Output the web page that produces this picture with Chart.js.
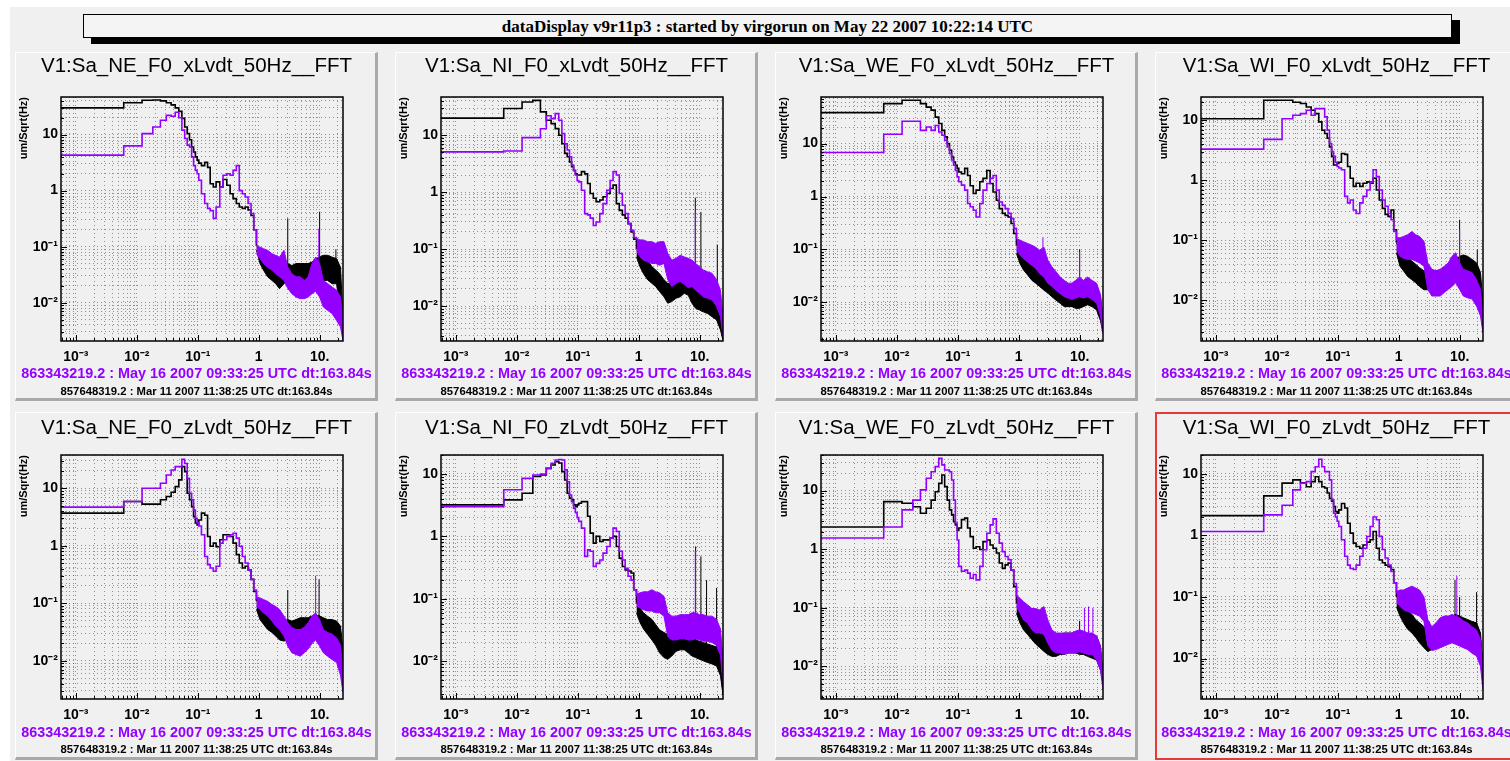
<!DOCTYPE html>
<html>
<head>
<meta charset="utf-8">
<script src="https://cdn.jsdelivr.net/npm/chart.js@4.4.1/dist/chart.umd.min.js"></script>
<style>
html, body { margin: 0; padding: 0; }
body { width: 1510px; height: 761px; overflow: hidden; position: relative; background: #fff; font-family: "Liberation Sans", Arial, sans-serif; }
#bg { position: absolute; left: 10px; top: 7px; right: 0; bottom: 0; background: #f0f0f0; }
#header { position: absolute; left: 83px; top: 14px; width: 1367px; height: 22px; border: 1px solid #000; background: #f4f4f4;
  box-shadow: 8px 6px 0 #000; text-align: center; font: bold 17px "Liberation Serif", "DejaVu Serif", serif; line-height: 23px; color: #000; }
.pad { position: absolute; width: 363px; background: #f0f0f0; overflow: hidden; }
.pad canvas { position: absolute; left: 0; top: 0; }
.frame { position: absolute; left: 0; top: 0; right: 0; bottom: 0; box-sizing: border-box; pointer-events: none;
  border-top: 1px solid #fff; border-left: 1px solid #fff; border-right: 3px solid #a9a9a9; border-bottom: 3px solid #a9a9a9; }
.frame.sel { border: 2px solid #e8393a; }
.now { position: absolute; left: -60px; right: -60px; text-align: center; white-space: nowrap; color: #9400ff;
  font: bold 14.4px "Liberation Sans", Arial, sans-serif; line-height: 16px; }
.ref { position: absolute; left: -60px; right: -60px; text-align: center; white-space: nowrap; color: #000;
  font: bold 11.3px "Liberation Sans", Arial, sans-serif; line-height: 14px; }
</style>
</head>
<body>
<div id="bg"></div>
<div id="header">dataDisplay v9r11p3 : started by virgorun on May 22 2007 10:22:14 UTC</div>
<div id="pads"></div>
<script>
// frequency grid (Hz): FFT bin edges at low f, then points along the curve
const lineFreq = [0.0005, 0.0061, 0.0122, 0.0183, 0.0244, 0.0305, 0.0366, 0.0427, 0.0488, 0.0549, 0.061, 0.0671, 0.0732,
  0.0793, 0.0854, 0.0915, 0.0977, 0.104, 0.115, 0.13, 0.145, 0.16, 0.18, 0.2, 0.23, 0.26, 0.3, 0.34, 0.38, 0.43, 0.48,
  0.54, 0.6, 0.67, 0.75, 0.83, 0.92];
// noisy high-frequency part: upper / lower envelope of the trace
const bandFreq = [0.92, 1.05, 1.2, 1.4, 1.65, 1.9, 2.2, 2.6, 3.0, 3.5, 4.1, 4.8, 5.6, 6.5, 7.5, 8.6, 10, 11.5, 13.5, 16, 19, 22, 24.2];

const xMajor = [0.001, 0.01, 0.1, 1, 10];
const xMajorLabels = ['10⁻³', '10⁻²', '10⁻¹', '1', '10.'];
const yMajor = [0.01, 0.1, 1, 10];
const yMajorLabels = ['10⁻²', '10⁻¹', '1', '10'];

const titles = ['V1:Sa_NE_F0_xLvdt_50Hz__FFT', 'V1:Sa_NI_F0_xLvdt_50Hz__FFT', 'V1:Sa_WE_F0_xLvdt_50Hz__FFT', 'V1:Sa_WI_F0_xLvdt_50Hz__FFT',
  'V1:Sa_NE_F0_zLvdt_50Hz__FFT', 'V1:Sa_NI_F0_zLvdt_50Hz__FFT', 'V1:Sa_WE_F0_zLvdt_50Hz__FFT', 'V1:Sa_WI_F0_zLvdt_50Hz__FFT'];
const yMins = [2.07e-3, 2.43e-3, 1.86e-3, 2.1e-3, 2.16e-3, 2.5e-3, 2.77e-3, 2.2e-3];
const yMaxs = [46.9, 47, 76, 24.4, 37.9, 20.1, 40.6, 20.3];
const nowLabel = '863343219.2 : May 16 2007 09:33:25 UTC dt:163.84s';
const refLabel = '857648319.2 : Mar 11 2007 11:38:25 UTC dt:163.84s';

// black = Mar 11 reference, purple = May 16
const neX_ref = [30, 37, 41, 41.5, 40, 37, 34, 30, 26, 19.5, 13.7, 10.4, 8.1, 6.0, 4.9, 4.0, 3.5, 3.1, 2.8, 3.2, 2.6, 1.33, 1.16, 1.43, 1.16, 1.58, 1.25, 0.88, 0.72, 0.59, 0.51, 0.48, 0.51, 0.45, 0.36, 0.2, 0.105];
const neX_refHi = [0.106, 0.086, 0.075, 0.07, 0.057, 0.05, 0.043, 0.043, 0.05, 0.046, 0.05, 0.05, 0.05, 0.05, 0.053, 0.061, 0.065, 0.07, 0.07, 0.065, 0.061, 0.043, 0.0055];
const neX_refLo = [0.087, 0.05, 0.038, 0.029, 0.025, 0.0218, 0.0178, 0.0218, 0.025, 0.025, 0.023, 0.025, 0.023, 0.0218, 0.0218, 0.025, 0.025, 0.025, 0.025, 0.0218, 0.0218, 0.0055, 0.0024];
const neX_refSpk = [[3.0, 0.03, 0.32], [10, 0.03, 0.42], [18.5, 0.03, 0.09]];
const neX_now = [4.3, 6.3, 10.4, 13.7, 18, 22, 21.3, 25, 20, 12, 8.5, 6.5, 6.0, 4.0, 2.8, 2.3, 2.0, 1.53, 0.88, 0.59, 0.48, 0.44, 0.32, 0.51, 1.16, 1.88, 2.0, 1.88, 2.3, 2.8, 1.0, 0.88, 0.77, 0.59, 0.39, 0.2, 0.11];
const neX_nowHi = [0.106, 0.098, 0.092, 0.086, 0.075, 0.07, 0.065, 0.086, 0.043, 0.033, 0.029, 0.029, 0.025, 0.029, 0.05, 0.065, 0.05, 0.025, 0.022, 0.019, 0.0167, 0.0126, 0.0055];
const neX_nowLo = [0.075, 0.061, 0.05, 0.043, 0.038, 0.033, 0.029, 0.025, 0.018, 0.0145, 0.0126, 0.0118, 0.0118, 0.0126, 0.0145, 0.016, 0.0126, 0.0084, 0.0073, 0.0064, 0.0048, 0.0037, 0.0021];
const neX_nowSpk = [[9.7, 0.02, 0.21]];

const niX_ref = [20, 29.5, 38.5, 41, 25.7, 18.3, 16, 13.1, 10, 7.1, 4.8, 4.2, 3.4, 2.8, 2.4, 2.1, 2.0, 2.0, 2.3, 2.1, 1.42, 0.95, 0.78, 0.68, 0.73, 0.83, 0.95, 1.16, 1.33, 0.63, 0.48, 0.40, 0.35, 0.28, 0.20, 0.15, 0.10];
const niX_refHi = [0.11, 0.095, 0.073, 0.064, 0.049, 0.043, 0.037, 0.029, 0.025, 0.025, 0.029, 0.033, 0.037, 0.04, 0.029, 0.019, 0.0166, 0.0155, 0.0145, 0.0137, 0.0128, 0.0085, 0.0029];
const niX_refLo = [0.073, 0.049, 0.037, 0.029, 0.025, 0.022, 0.018, 0.0145, 0.0112, 0.012, 0.0137, 0.0145, 0.0167, 0.0155, 0.0112, 0.0091, 0.0085, 0.0079, 0.0074, 0.0065, 0.0057, 0.0038, 0.0025];
const niX_refSpk = [[8.5, 0.015, 0.8], [10.5, 0.015, 0.45], [19.5, 0.01, 0.12]];
const niX_now = [5.1, 5.3, 9.1, 9.1, 13, 22, 19.6, 24, 18.3, 10.7, 7.1, 5.5, 4.2, 3.0, 2.4, 2.0, 1.6, 1.52, 1.08, 0.42, 0.40, 0.35, 0.26, 0.30, 0.42, 0.63, 1.08, 1.6, 2.3, 2.0, 0.95, 0.59, 0.42, 0.28, 0.215, 0.16, 0.145];
const niX_nowHi = [0.155, 0.145, 0.145, 0.135, 0.135, 0.126, 0.135, 0.135, 0.084, 0.064, 0.069, 0.078, 0.073, 0.069, 0.064, 0.056, 0.049, 0.043, 0.04, 0.0375, 0.029, 0.019, 0.0065];
const niX_nowLo = [0.095, 0.073, 0.064, 0.06, 0.056, 0.056, 0.052, 0.056, 0.029, 0.022, 0.025, 0.027, 0.024, 0.021, 0.022, 0.019, 0.0167, 0.0145, 0.0137, 0.0128, 0.0098, 0.0065, 0.0029];
const niX_nowSpk = [[8.5, 0.03, 0.45]];

const weX_ref = [38.5, 57, 66, 66, 57, 49, 43, 31.6, 24, 17.8, 13.4, 10, 7.5, 5.6, 4.5, 3.9, 3.4, 2.9, 2.7, 3.4, 2.5, 1.6, 1.14, 1.32, 1.9, 2.2, 3.1, 1.76, 1.22, 0.85, 0.59, 0.48, 0.44, 0.41, 0.31, 0.2, 0.12];
const weX_refHi = [0.12, 0.10, 0.09, 0.078, 0.067, 0.058, 0.05, 0.04, 0.035, 0.028, 0.025, 0.023, 0.021, 0.02, 0.019, 0.017, 0.017, 0.019, 0.019, 0.02, 0.02, 0.0128, 0.0045];
const weX_refLo = [0.084, 0.054, 0.041, 0.033, 0.026, 0.023, 0.02, 0.017, 0.015, 0.0128, 0.011, 0.0096, 0.0083, 0.0083, 0.0083, 0.0077, 0.0077, 0.0083, 0.009, 0.0083, 0.0072, 0.0045, 0.0026];
const weX_refSpk = [[10, 0.01, 0.1]];
const weX_now = [6.8, 15, 26.4, 26.4, 17.8, 20.6, 17.8, 22, 16.6, 14.4, 11.6, 8.6, 6.5, 4.9, 3.9, 3.1, 2.35, 1.9, 1.64, 1.32, 0.74, 0.64, 0.55, 0.41, 0.74, 1.32, 1.76, 2.2, 2.5, 1.32, 0.79, 0.68, 0.59, 0.48, 0.38, 0.25, 0.16];
const weX_nowHi = [0.16, 0.15, 0.14, 0.13, 0.12, 0.11, 0.097, 0.11, 0.063, 0.047, 0.038, 0.03, 0.026, 0.023, 0.023, 0.026, 0.03, 0.026, 0.03, 0.026, 0.023, 0.014, 0.005];
const weX_nowLo = [0.097, 0.078, 0.067, 0.058, 0.05, 0.044, 0.035, 0.03, 0.023, 0.02, 0.017, 0.0146, 0.0128, 0.012, 0.0113, 0.012, 0.0128, 0.012, 0.0128, 0.0113, 0.0096, 0.0055, 0.0026];
const weX_nowSpk = [[2.5, 0.05, 0.17], [10, 0.015, 0.09]];

const wiX_ref = [10.6, 21.5, 21.5, 20, 19, 16.6, 14.7, 12.9, 9.4, 6.8, 6.0, 5.0, 3.6, 2.5, 1.8, 1.8, 1.9, 2.0, 2.8, 2.7, 1.7, 1.08, 0.79, 0.89, 0.79, 0.89, 0.94, 0.89, 1.08, 0.69, 0.47, 0.34, 0.27, 0.25, 0.32, 0.15, 0.091];
const wiX_refHi = [0.09, 0.07, 0.058, 0.051, 0.045, 0.04, 0.035, 0.031, 0.029, 0.029, 0.031, 0.031, 0.033, 0.037, 0.042, 0.048, 0.054, 0.057, 0.054, 0.048, 0.042, 0.029, 0.0092];
const wiX_refLo = [0.062, 0.037, 0.031, 0.025, 0.022, 0.0196, 0.017, 0.015, 0.015, 0.016, 0.0196, 0.0196, 0.0196, 0.0196, 0.0196, 0.022, 0.0196, 0.024, 0.0196, 0.0196, 0.017, 0.0105, 0.0055];
const wiX_refSpk = [[10, 0.03, 0.22], [19.5, 0.02, 0.07]];
const wiX_now = [3.3, 4.8, 10.6, 12.1, 12.9, 14.7, 12.1, 15.6, 15.6, 15.6, 11.4, 6.8, 4.1, 3.0, 2.5, 2.0, 1.7, 1.6, 1.5, 0.54, 0.42, 0.47, 0.32, 0.28, 0.42, 0.54, 0.69, 0.94, 1.5, 1.15, 0.69, 0.47, 0.37, 0.28, 0.22, 0.14, 0.10];
const wiX_nowHi = [0.11, 0.11, 0.116, 0.124, 0.14, 0.124, 0.116, 0.096, 0.042, 0.033, 0.031, 0.033, 0.037, 0.042, 0.054, 0.062, 0.042, 0.033, 0.031, 0.029, 0.022, 0.0152, 0.0055];
const wiX_nowLo = [0.07, 0.054, 0.05, 0.048, 0.048, 0.045, 0.042, 0.037, 0.0152, 0.0118, 0.0118, 0.0118, 0.0135, 0.0152, 0.017, 0.0196, 0.0152, 0.0118, 0.011, 0.0105, 0.008, 0.0055, 0.0029];
const wiX_nowSpk = [[10, 0.03, 0.15]];

const neZ_ref = [3.7, 5.9, 5.3, 5.3, 6.3, 7.2, 8.5, 10.7, 14, 23.8, 19.5, 8.2, 6.3, 4.8, 3.2, 2.5, 2.3, 2.8, 3.7, 3.4, 1.45, 0.98, 1.11, 0.96, 1.27, 1.55, 1.55, 1.45, 1.11, 0.7, 0.5, 0.41, 0.44, 0.38, 0.26, 0.16, 0.108];
const neZ_refHi = [0.116, 0.1, 0.088, 0.077, 0.068, 0.06, 0.052, 0.049, 0.052, 0.049, 0.052, 0.056, 0.056, 0.056, 0.06, 0.063, 0.06, 0.056, 0.052, 0.052, 0.049, 0.04, 0.0156];
const neZ_refLo = [0.078, 0.052, 0.043, 0.035, 0.031, 0.027, 0.023, 0.022, 0.023, 0.022, 0.025, 0.025, 0.027, 0.027, 0.029, 0.029, 0.027, 0.025, 0.023, 0.023, 0.022, 0.012, 0.0062];
const neZ_refSpk = [[3.0, 0.03, 0.17], [9.8, 0.03, 0.26]];
const neZ_now = [4.7, 5.9, 10, 10, 12.2, 17, 20.8, 23.8, 23.8, 31.8, 27, 14.9, 8.2, 6.3, 4.2, 3.0, 2.5, 2.2, 1.55, 0.65, 0.47, 0.41, 0.36, 0.44, 1.11, 1.27, 1.45, 1.55, 1.65, 1.36, 0.98, 0.65, 0.5, 0.38, 0.26, 0.17, 0.116];
const neZ_nowHi = [0.13, 0.124, 0.116, 0.108, 0.095, 0.088, 0.078, 0.06, 0.046, 0.038, 0.035, 0.035, 0.038, 0.046, 0.06, 0.068, 0.052, 0.035, 0.031, 0.029, 0.025, 0.0188, 0.0073];
const neZ_nowLo = [0.088, 0.078, 0.068, 0.06, 0.049, 0.04, 0.035, 0.027, 0.018, 0.0138, 0.0128, 0.012, 0.0138, 0.016, 0.02, 0.023, 0.018, 0.0138, 0.012, 0.0105, 0.0093, 0.0056, 0.0028];
const neZ_nowSpk = [[8.6, 0.03, 0.3]];

const niZ_ref = [3.2, 3.85, 4.9, 9.1, 9.6, 12.3, 13.9, 15.7, 15, 10.9, 8.0, 4.9, 4.1, 3.85, 3.2, 3.0, 3.2, 3.4, 3.6, 3.6, 2.1, 1.13, 0.78, 1.0, 0.83, 0.88, 0.88, 0.94, 1.0, 0.69, 0.45, 0.33, 0.29, 0.28, 0.26, 0.14, 0.086];
const niZ_refHi = [0.086, 0.072, 0.06, 0.053, 0.047, 0.039, 0.032, 0.029, 0.027, 0.029, 0.032, 0.037, 0.035, 0.031, 0.026, 0.022, 0.021, 0.02, 0.019, 0.018, 0.017, 0.0125, 0.0045];
const niZ_refLo = [0.06, 0.042, 0.033, 0.027, 0.022, 0.018, 0.0137, 0.0115, 0.0108, 0.0122, 0.0145, 0.0153, 0.0153, 0.0137, 0.0122, 0.0115, 0.0108, 0.0102, 0.0096, 0.0091, 0.0084, 0.0059, 0.0029];
const niZ_refSpk = [[8.6, 0.02, 0.69], [10.5, 0.02, 0.48], [13, 0.015, 0.2], [19, 0.012, 0.15]];
const niZ_now = [3.0, 5.6, 8.5, 9.6, 10, 12.3, 14.8, 16.7, 17, 16.7, 11.6, 7.5, 4.6, 3.6, 2.8, 2.4, 2.0, 1.74, 1.36, 0.48, 0.61, 0.58, 0.33, 0.37, 0.42, 0.54, 0.69, 0.94, 1.36, 1.2, 0.58, 0.42, 0.31, 0.23, 0.2, 0.14, 0.11];
const niZ_nowHi = [0.12, 0.125, 0.13, 0.13, 0.14, 0.13, 0.125, 0.11, 0.06, 0.053, 0.053, 0.056, 0.056, 0.056, 0.06, 0.06, 0.056, 0.056, 0.053, 0.053, 0.047, 0.033, 0.0104];
const niZ_nowLo = [0.076, 0.072, 0.067, 0.064, 0.064, 0.06, 0.06, 0.053, 0.025, 0.022, 0.022, 0.023, 0.023, 0.022, 0.022, 0.023, 0.022, 0.021, 0.021, 0.02, 0.018, 0.0125, 0.0044];
const niZ_nowSpk = [[8.5, 0.03, 0.6]];

const weZ_ref = [2.4, 6.5, 6.1, 5.3, 4.1, 5.0, 6.9, 9.6, 13.3, 18.5, 11.7, 6.9, 4.7, 3.85, 2.96, 2.6, 2.1, 2.3, 3.2, 3.4, 2.3, 1.64, 1.04, 1.1, 0.99, 1.35, 1.44, 1.18, 1.04, 0.86, 0.58, 0.47, 0.54, 0.58, 0.44, 0.23, 0.12];
const weZ_refHi = [0.12, 0.1, 0.081, 0.066, 0.055, 0.048, 0.042, 0.037, 0.035, 0.033, 0.033, 0.035, 0.037, 0.037, 0.037, 0.037, 0.037, 0.037, 0.037, 0.035, 0.033, 0.022, 0.0074];
const weZ_refLo = [0.081, 0.055, 0.042, 0.035, 0.0285, 0.024, 0.021, 0.018, 0.016, 0.0148, 0.0148, 0.016, 0.016, 0.0169, 0.0169, 0.0169, 0.016, 0.016, 0.0148, 0.0138, 0.0128, 0.0086, 0.0052];
const weZ_refSpk = [[10, 0.02, 0.06]];
const weZ_now = [1.55, 2.4, 4.7, 6.9, 10.3, 16.3, 21, 25.7, 35.5, 27.5, 22.5, 22.5, 21, 15.2, 6.9, 2.8, 1.44, 0.51, 0.42, 0.44, 0.39, 0.32, 0.37, 0.3, 0.51, 0.98, 1.87, 2.6, 3.3, 1.87, 1.27, 0.91, 0.75, 0.66, 0.44, 0.26, 0.155];
const weZ_nowHi = [0.165, 0.145, 0.127, 0.112, 0.097, 0.097, 0.092, 0.105, 0.062, 0.042, 0.037, 0.037, 0.037, 0.037, 0.037, 0.04, 0.042, 0.04, 0.037, 0.037, 0.033, 0.022, 0.0058];
const weZ_nowLo = [0.105, 0.081, 0.062, 0.055, 0.042, 0.037, 0.037, 0.035, 0.025, 0.019, 0.0169, 0.0169, 0.016, 0.0169, 0.0169, 0.0169, 0.0178, 0.0169, 0.016, 0.016, 0.0128, 0.0087, 0.004];
const weZ_nowSpk = [[2.5, 0.04, 0.1], [12, 0.02, 0.1], [14, 0.02, 0.105], [16.5, 0.02, 0.1]];

const wiZ_ref = [2.1, 4.4, 7.1, 8.0, 7.2, 6.2, 7.5, 9.0, 7.5, 6.2, 5.9, 4.9, 4.0, 3.6, 2.95, 2.45, 2.3, 2.6, 3.3, 2.8, 1.58, 1.09, 0.75, 0.66, 0.62, 0.7, 0.78, 0.85, 1.16, 0.62, 0.4, 0.36, 0.33, 0.31, 0.28, 0.17, 0.1];
const wiZ_refHi = [0.1, 0.091, 0.075, 0.062, 0.052, 0.043, 0.038, 0.033, 0.029, 0.029, 0.031, 0.033, 0.038, 0.043, 0.049, 0.052, 0.049, 0.046, 0.043, 0.04, 0.038, 0.026, 0.0075];
const wiZ_refLo = [0.069, 0.049, 0.038, 0.03, 0.026, 0.022, 0.018, 0.015, 0.013, 0.014, 0.015, 0.0159, 0.017, 0.018, 0.019, 0.0203, 0.019, 0.018, 0.017, 0.0159, 0.015, 0.0107, 0.0045];
const wiZ_refSpk = [[8.4, 0.03, 0.19], [10, 0.03, 0.1], [19, 0.02, 0.12]];
const wiZ_now = [1.16, 2.16, 3.1, 5.5, 7.1, 7.5, 10.9, 13.1, 17.3, 13.1, 10.9, 10.9, 8.0, 3.8, 2.3, 2.0, 1.7, 1.4, 0.85, 0.46, 0.33, 0.29, 0.28, 0.33, 0.46, 0.62, 0.96, 1.4, 2.0, 1.8, 0.96, 0.59, 0.43, 0.33, 0.26, 0.17, 0.115];
const wiZ_nowHi = [0.123, 0.13, 0.13, 0.14, 0.15, 0.14, 0.13, 0.1, 0.043, 0.033, 0.038, 0.046, 0.049, 0.049, 0.052, 0.049, 0.046, 0.041, 0.038, 0.033, 0.029, 0.0203, 0.0075];
const wiZ_nowLo = [0.08, 0.071, 0.062, 0.058, 0.055, 0.052, 0.049, 0.04, 0.016, 0.0135, 0.014, 0.015, 0.016, 0.017, 0.018, 0.017, 0.016, 0.015, 0.014, 0.0122, 0.011, 0.0075, 0.0031];
const wiZ_nowSpk = [[9, 0.03, 0.22]];

const xMin = 5.7e-4, xMax = 24.2;
const FONT = '"Liberation Sans", Arial, sans-serif';
const PURPLE = '#9400ff';
const GRID = 'rgba(70,70,70,0.55)';

const series = [
  [neX_ref, neX_refHi, neX_refLo, neX_refSpk, neX_now, neX_nowHi, neX_nowLo, neX_nowSpk],
  [niX_ref, niX_refHi, niX_refLo, niX_refSpk, niX_now, niX_nowHi, niX_nowLo, niX_nowSpk],
  [weX_ref, weX_refHi, weX_refLo, weX_refSpk, weX_now, weX_nowHi, weX_nowLo, weX_nowSpk],
  [wiX_ref, wiX_refHi, wiX_refLo, wiX_refSpk, wiX_now, wiX_nowHi, wiX_nowLo, wiX_nowSpk],
  [neZ_ref, neZ_refHi, neZ_refLo, neZ_refSpk, neZ_now, neZ_nowHi, neZ_nowLo, neZ_nowSpk],
  [niZ_ref, niZ_refHi, niZ_refLo, niZ_refSpk, niZ_now, niZ_nowHi, niZ_nowLo, niZ_nowSpk],
  [weZ_ref, weZ_refHi, weZ_refLo, weZ_refSpk, weZ_now, weZ_nowHi, weZ_nowLo, weZ_nowSpk],
  [wiZ_ref, wiZ_refHi, wiZ_refLo, wiZ_refSpk, wiZ_now, wiZ_nowHi, wiZ_nowLo, wiZ_nowSpk]
];

function pts(fs, vs) {
  return vs.map((v, i) => ({ x: fs[i], y: v }));
}

function spikePts(list) {
  const out = [];
  list.forEach(s => {
    out.push({ x: s[0], y: s[1] }, { x: s[0], y: s[2] }, { x: s[0], y: null });
  });
  return out;
}

function seriesSets(line, hi, lo, spk, color, order) {
  const base = { borderColor: color, pointRadius: 0, order: order, spanGaps: false };
  return [
    { ...base, data: pts(bandFreq, hi), borderWidth: 1, backgroundColor: color, fill: '+1' },
    { ...base, data: pts(bandFreq, lo), borderWidth: 1, fill: false },
    { ...base, data: pts(lineFreq, line), borderWidth: 1.6, stepped: true, fill: false },
    { ...base, data: spikePts(spk), borderWidth: 1, fill: false }
  ];
}

// log ticks at 1..9 x 10^n, only decades get a label
function logTicks(min, max) {
  const out = [];
  for (let e = -4; e <= 2; e++) {
    for (let m = 1; m <= 9; m++) {
      const v = m * Math.pow(10, e);
      if (v > min && v < max) out.push({ value: v, major: m === 1 });
    }
  }
  return out;
}

function majorLabel(v, majors, labels) {
  const i = majors.findIndex(m => Math.abs(m - v) / m < 1e-6);
  return i >= 0 ? labels[i] : '';
}

// ROOT style frame with tick marks pointing inwards
const rootFrame = {
  id: 'rootFrame',
  afterDatasetsDraw(chart) {
    const { ctx, chartArea: a, scales } = chart;
    ctx.save();
    ctx.strokeStyle = '#000';
    ctx.lineWidth = 1;
    scales.x.ticks.forEach(t => {
      const px = Math.round(scales.x.getPixelForValue(t.value)) + 0.5;
      const len = t.major ? 6 : 3;
      ctx.beginPath();
      ctx.moveTo(px, a.bottom);
      ctx.lineTo(px, a.bottom - len);
      ctx.stroke();
    });
    scales.y.ticks.forEach(t => {
      const py = Math.round(scales.y.getPixelForValue(t.value)) + 0.5;
      const len = t.major ? 6 : 3;
      ctx.beginPath();
      ctx.moveTo(a.left, py);
      ctx.lineTo(a.left + len, py);
      ctx.stroke();
    });
    ctx.lineWidth = 1.5;
    ctx.strokeRect(a.left, a.top, a.right - a.left, a.bottom - a.top);
    ctx.restore();
  }
};

const padsEl = document.getElementById('pads');

titles.forEach((title, i) => {
  const col = i % 4, row = Math.floor(i / 4);
  const h = row === 0 ? 349 : 348;
  const pad = document.createElement('div');
  pad.className = 'pad';
  pad.style.left = (15 + 380 * col) + 'px';
  pad.style.top = (row === 0 ? 52 : 412) + 'px';
  pad.style.height = h + 'px';

  const canvas = document.createElement('canvas');
  canvas.width = 363;
  canvas.height = h;
  pad.appendChild(canvas);

  const now = document.createElement('div');
  now.className = 'now';
  now.style.top = (row === 0 ? 313 : 312) + 'px';
  now.textContent = nowLabel;
  pad.appendChild(now);

  const ref = document.createElement('div');
  ref.className = 'ref';
  ref.style.top = (row === 0 ? 332 : 330) + 'px';
  ref.textContent = refLabel;
  pad.appendChild(ref);

  const frame = document.createElement('div');
  frame.className = i === 7 ? 'frame sel' : 'frame';
  pad.appendChild(frame);
  padsEl.appendChild(pad);

  const s = series[i];
  const datasets = seriesSets(s[4], s[5], s[6], s[7], PURPLE, 0)
    .concat(seriesSets(s[0], s[1], s[2], s[3], '#000', 1));

  const yMin = yMins[i], yMax = yMaxs[i];
  new Chart(canvas, {
    type: 'line',
    data: { datasets: datasets },
    options: {
      responsive: false,
      animation: false,
      events: [],
      layout: { padding: { left: 0, right: 0, top: 0, bottom: row === 0 ? 32 : 33 } },
      plugins: {
        legend: { display: false },
        tooltip: { enabled: false },
        title: {
          display: true,
          text: title,
          color: '#000',
          font: { family: FONT, size: 20.5, weight: 'normal', lineHeight: 1.2 },
          padding: row === 0 ? { top: 2, bottom: 18.4 } : { top: 3.7, bottom: 14.7 }
        }
      },
      scales: {
        x: {
          type: 'logarithmic',
          min: xMin,
          max: xMax,
          bounds: 'data',
          afterBuildTicks: sc => { sc.ticks = logTicks(xMin, xMax); },
          afterFit: sc => { sc.height = 28; },
          ticks: {
            autoSkip: false, maxRotation: 0, padding: 8, color: '#000',
            font: { family: FONT, size: 14, weight: 'bold' },
            callback: v => majorLabel(v, xMajor, xMajorLabels)
          },
          grid: { color: GRID, lineWidth: 1, drawTicks: false },
          border: { display: false, dash: [1, 3] }
        },
        y: {
          type: 'logarithmic',
          position: 'left',
          min: yMin,
          max: yMax,
          bounds: 'data',
          afterBuildTicks: sc => { sc.ticks = logTicks(yMin, yMax); },
          afterFit: sc => { sc.width = 46; },
          title: {
            display: true, text: 'um/Sqrt(Hz)', align: 'end', color: '#000',
            font: { family: FONT, size: 11, weight: 'bold' }, padding: { top: 2, bottom: 0 }
          },
          ticks: {
            autoSkip: false, padding: 3, color: '#000',
            font: { family: FONT, size: 14, weight: 'bold' },
            callback: v => majorLabel(v, yMajor, yMajorLabels)
          },
          grid: { color: GRID, lineWidth: 1, drawTicks: false },
          border: { display: false, dash: [1, 3] }
        },
        yR: {
          type: 'linear',
          position: 'right',
          afterFit: sc => { sc.width = 35; },
          ticks: { display: false },
          grid: { display: false },
          border: { display: false }
        }
      }
    },
    plugins: [rootFrame]
  });
});
</script>
</body>
</html>
